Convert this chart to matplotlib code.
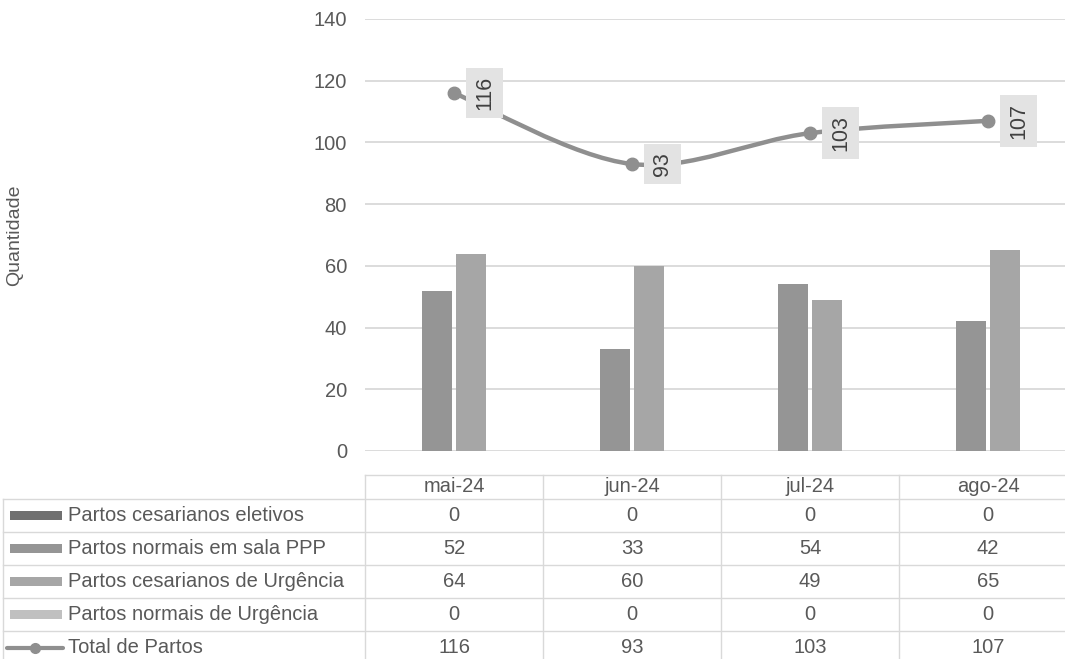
import numpy as np
import matplotlib.pyplot as plt
from matplotlib.path import Path
from matplotlib.patches import PathPatch, Rectangle
from matplotlib.lines import Line2D
from matplotlib.transforms import blended_transform_factory

plt.rcParams['font.family'] = ['Liberation Sans', 'DejaVu Sans']
plt.rcParams['font.size'] = 14.5

# dados
meses = ["mai-24", "jun-24", "jul-24", "ago-24"]
cesar_eletivos = [0, 0, 0, 0]
normais_ppp = [52, 33, 54, 42]
cesar_urgencia = [64, 60, 49, 65]
normais_urgencia = [0, 0, 0, 0]
total_partos = [116, 93, 103, 107]

nomes = ["Partos cesarianos eletivos", "Partos normais em sala PPP",
         "Partos cesarianos de Urgência", "Partos normais de Urgência",
         "Total de Partos"]
cores = ["#707070", "#959595", "#a6a6a6", "#c0c0c0"]
cor_linha = "#8f8f8f"
cor_texto = "#595959"
cor_grade = "#d9d9d9"

W, H = 1065, 659
fig = plt.figure(figsize=(W / 100, H / 100), dpi=100)

# camada para a tabela (coordenadas em pixels)
ov = fig.add_axes([0, 0, 1, 1])
ov.set_xlim(0, W)
ov.set_ylim(H, 0)
ov.axis("off")

# eixo principal
x0, x1, ytop, ybot = 365, 1077, 19, 451
ax = fig.add_axes([x0 / W, 1 - ybot / H, (x1 - x0) / W, (ybot - ytop) / H])
ax.patch.set_alpha(0)
x = np.arange(len(meses))
ax.set_xlim(-0.5, len(meses) - 0.5)
ax.set_ylim(0, 140)
ax.set_yticks(range(0, 141, 20))
ax.set_xticks([])
ax.tick_params(axis="y", length=0, pad=13, labelcolor=cor_texto)
for s in ax.spines.values():
    s.set_visible(False)
ax.grid(axis="y", color=cor_grade, lw=1.3, zorder=0)
ax.set_axisbelow(True)

# barras
series = [cesar_eletivos, normais_ppp, cesar_urgencia, normais_urgencia]
larg = 0.169
passo = 0.191
for k, vals in enumerate(series):
    ax.bar(x + (k - 1.5) * passo, vals, width=larg, color=cores[k],
           linewidth=0, zorder=2)

# linha suavizada (bezier tipo excel)
pts = np.column_stack([x, total_partos]).astype(float)
n = len(pts)
verts = [tuple(pts[0])]
codes = [Path.MOVETO]
for i in range(n - 1):
    p0 = pts[max(i - 1, 0)]
    p1 = pts[i]
    p2 = pts[i + 1]
    p3 = pts[min(i + 2, n - 1)]
    c1 = p1 + (p2 - p0) / 6
    c2 = p2 - (p3 - p1) / 6
    verts += [tuple(c1), tuple(c2), tuple(p2)]
    codes += [Path.CURVE4] * 3
ax.add_patch(PathPatch(Path(verts, codes), fill=False, edgecolor=cor_linha,
                       lw=3.2, capstyle="round", zorder=3, clip_on=False))
ax.plot(x, total_partos, "o", ms=9, color=cor_linha, zorder=4, clip_on=False)

for i, v in enumerate(total_partos):
    ax.annotate(str(v), (i, v), xytext=(22, 0), textcoords="offset points",
                rotation=90, ha="center", va="center", color="#404040",
                fontsize=15.5,
                bbox=dict(boxstyle="square,pad=0.36", fc="#e3e3e3", ec="none"),
                zorder=5)

ov.text(15, (ytop + ybot) / 2, "Quantidade", rotation=90, ha="center",
        va="center", color=cor_texto, fontsize=14)

# tabela de dados
tr = blended_transform_factory(ax.transData, ov.transData)
cab_top, lin_top, lin_h = 475, 499, 33
n_lin = 5
fundo = lin_top + n_lin * lin_h
lk = dict(color=cor_grade, lw=1.0, clip_on=False)

ov.plot([x0, W + 20], [cab_top, cab_top], **lk)
for r in range(n_lin):
    yy = lin_top + r * lin_h
    ov.plot([3, W + 20], [yy, yy], **lk)
ov.plot([3, 3], [lin_top, fundo], **lk)
for b in np.arange(-0.5, len(meses) - 0.5):
    ov.add_line(Line2D([b, b], [cab_top, fundo], transform=tr, **lk))

for i, m in enumerate(meses):
    ov.text(i, (cab_top + lin_top) / 2, m, transform=tr, ha="center",
            va="center", color=cor_texto)

tabela = series + [total_partos]
for r, vals in enumerate(tabela):
    yc = lin_top + r * lin_h + lin_h / 2
    ov.text(68, yc, nomes[r], ha="left", va="center", color=cor_texto)
    for i, v in enumerate(vals):
        ov.text(i, yc, str(v), transform=tr, ha="center", va="center",
                color=cor_texto)
    if r < 4:
        ov.add_patch(Rectangle((10, yc - 4.5), 52, 9, color=cores[r], lw=0))
    else:
        ov.plot([7, 63], [yc, yc], color=cor_linha, lw=3, solid_capstyle="round")
        ov.plot([35], [yc], "o", ms=7, color=cor_linha)

fig.savefig("out.png", dpi=100)
